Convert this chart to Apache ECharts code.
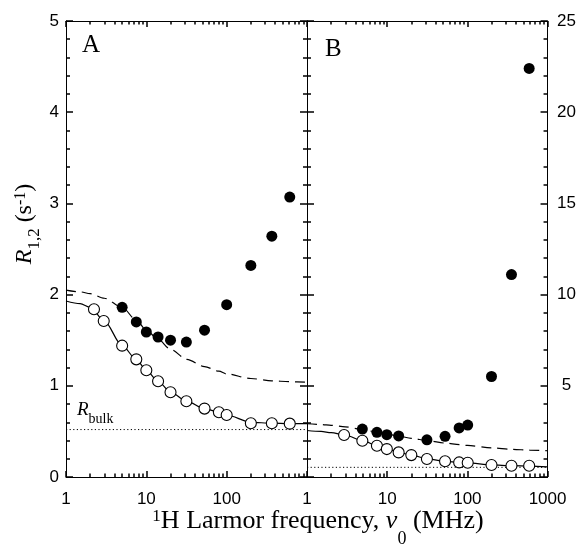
<!DOCTYPE html>
<html>
<head>
<meta charset="utf-8">
<script src="https://cdn.jsdelivr.net/npm/echarts@6/dist/echarts.min.js"></script>
<style>
  html, body { margin: 0; padding: 0; background: #fff; }
  #chart { width: 579px; height: 547px; }
</style>
</head>
<body>
<div id="chart"></div>
<script>
// ---------- data ----------
// Panel A (left axis, s^-1)
const freqAFilled = [5, 7.5, 10, 14, 20, 31.5, 53, 100, 200, 365, 610];
const rAFilled    = [1.86, 1.70, 1.59, 1.535, 1.50, 1.48, 1.61, 1.89, 2.32, 2.64, 3.07];
const freqAOpen   = [2.23, 2.95, 5, 7.5, 10, 14, 20, 31.5, 53, 80, 100, 200, 365, 610];
const rAOpen      = [1.84, 1.71, 1.44, 1.29, 1.17, 1.05, 0.93, 0.83, 0.75, 0.71, 0.68, 0.59, 0.59, 0.585];

// Fit curves sampled along the drawn lines
const fitFreq     = [1, 1.5, 2, 3, 5, 7.5, 10, 14, 20, 32, 53, 80, 100, 200, 365, 600, 1000];
const fitASolid   = [1.93, 1.90, 1.86, 1.71, 1.44, 1.29, 1.17, 1.05, 0.93, 0.83, 0.75, 0.71, 0.68, 0.60, 0.59, 0.585, 0.585];
const fitADashed  = [2.05, 2.03, 2.01, 1.96, 1.86, 1.72, 1.61, 1.51, 1.40, 1.29, 1.21, 1.16, 1.13, 1.08, 1.055, 1.045, 1.04];
const rBulkA = 0.52;

// Panel B (right axis, s^-1)
const freqBFilled = [4.9, 7.45, 9.9, 13.9, 31.3, 52.7, 79, 101, 200, 355, 590];
const rBFilled    = [2.63, 2.45, 2.32, 2.25, 2.04, 2.23, 2.69, 2.85, 5.51, 11.1, 22.4];
const freqBOpen   = [2.9, 4.9, 7.45, 9.9, 13.9, 20, 31.3, 52.7, 79, 101, 200, 355, 590];
const rBOpen      = [2.30, 1.99, 1.71, 1.53, 1.35, 1.20, 0.99, 0.86, 0.80, 0.78, 0.66, 0.62, 0.62];
const fitBSolid   = [2.55, 2.50, 2.43, 2.29, 1.99, 1.71, 1.53, 1.35, 1.20, 0.99, 0.86, 0.80, 0.77, 0.66, 0.62, 0.60, 0.56];
const fitBDashed  = [2.92, 2.88, 2.83, 2.75, 2.60, 2.46, 2.35, 2.24, 2.12, 1.99, 1.86, 1.77, 1.73, 1.60, 1.52, 1.47, 1.44];
const rBulkB = 0.53;

// Axis ticks
const xMajor = [1, 10, 100, 1000];
const xMinor = [2,3,4,5,6,7,8,9,20,30,40,50,60,70,80,90,200,300,400,500,600,700,800,900];
const xLabelsA = [1, 10, 100];
const xLabelsB = [1, 10, 100, 1000];
const yLabelsB = [5, 10, 15, 20, 25];

// ---------- helpers ----------
const zip = (xs, ys) => xs.map((x, i) => [x, ys[i]]);
const BLACK = '#000';
const TW = 1.5;
const tickFont = { fontFamily: 'Liberation Sans', fontSize: 17, color: BLACK };

function xAxisPair(gridIndex, position, labels) {
  const major = {
    type: 'log', logBase: 10, min: 1, max: 1000, gridIndex, position,
    axisLine: { show: true, lineStyle: { color: BLACK, width: 1 } },
    axisTick: { show: true, inside: true, length: 6, customValues: xMajor, lineStyle: { color: BLACK, width: TW } },
    axisLabel: labels ? Object.assign({ show: true, margin: 14, customValues: labels, formatter: v => String(v) }, tickFont) : { show: false },
    splitLine: { show: false }
  };
  const minor = {
    type: 'log', logBase: 10, min: 1, max: 1000, gridIndex, position,
    axisLine: { show: false },
    axisTick: { show: true, inside: true, length: 3.5, customValues: xMinor, lineStyle: { color: BLACK, width: TW } },
    axisLabel: { show: false },
    splitLine: { show: false }
  };
  return [major, minor];
}

function yAxisDef(gridIndex, position, max, interval, labelOpt) {
  return {
    type: 'value', gridIndex, position, min: 0, max, interval,
    axisLine: { show: true, lineStyle: { color: BLACK, width: 1 } },
    axisTick: { show: true, inside: true, length: 7, lineStyle: { color: BLACK, width: TW } },
    minorTick: { show: true, splitNumber: 5, length: 4, lineStyle: { color: BLACK, width: TW } },
    axisLabel: labelOpt ? Object.assign({ show: true }, tickFont, labelOpt) : { show: false },
    splitLine: { show: false }, minorSplitLine: { show: false }
  };
}

function lineSeries(xi, yi, xs, ys, type) {
  return {
    type: 'line', xAxisIndex: xi, yAxisIndex: yi, data: zip(xs, ys),
    showSymbol: false, symbol: 'none', smooth: 0.3, smoothMonotone: 'x',
    lineStyle: { color: BLACK, width: 1.2, type: type, opacity: 1 },
    silent: true, z: 2
  };
}
function bulkSeries(xi, yi, v) {
  return {
    type: 'line', xAxisIndex: xi, yAxisIndex: yi, data: [[1, v], [1000, v]],
    showSymbol: false, symbol: 'none',
    lineStyle: { color: BLACK, width: 1, type: [1.2, 2.4], opacity: 1 }, silent: true, z: 1
  };
}
function scatterSeries(xi, yi, xs, ys, filled) {
  return {
    type: 'scatter', xAxisIndex: xi, yAxisIndex: yi, data: zip(xs, ys),
    symbol: 'circle', symbolSize: 11,
    itemStyle: filled ? { color: BLACK, borderColor: BLACK, borderWidth: 0, opacity: 1 }
                      : { color: '#fff', borderColor: BLACK, borderWidth: 1.1, opacity: 1 },
    silent: true, z: 5
  };
}

const serif = 'Liberation Serif';
const option = {
  backgroundColor: '#fff',
  animation: false,
  grid: [
    { left: 66, top: 21, width: 241, height: 456 },
    { left: 307, top: 21, width: 241.5, height: 456 }
  ],
  xAxis: [].concat(
    xAxisPair(0, 'bottom', xLabelsA),
    xAxisPair(0, 'top', null),
    xAxisPair(1, 'bottom', xLabelsB),
    xAxisPair(1, 'top', null)
  ),
  yAxis: [
    yAxisDef(0, 'left', 5, 1, { margin: 7 }),
    yAxisDef(0, 'right', 5, 1, null),
    yAxisDef(1, 'left', 25, 5, null),
    yAxisDef(1, 'right', 25, 5, { margin: 19, align: 'center', customValues: yLabelsB })
  ],
  series: [
    bulkSeries(0, 0, rBulkA),
    lineSeries(0, 0, fitFreq, fitADashed, [10, 6]),
    lineSeries(0, 0, fitFreq, fitASolid, 'solid'),
    scatterSeries(0, 0, freqAOpen, rAOpen, false),
    scatterSeries(0, 0, freqAFilled, rAFilled, true),

    bulkSeries(4, 3, rBulkB),
    lineSeries(4, 3, fitFreq, fitBDashed, [10, 6]),
    lineSeries(4, 3, fitFreq, fitBSolid, 'solid'),
    scatterSeries(4, 3, freqBOpen, rBOpen, false),
    scatterSeries(4, 3, freqBFilled, rBFilled, true)
  ],
  graphic: [
    { type: 'text', left: 82, top: 33, silent: true,
      style: { text: 'A', fontFamily: serif, fontSize: 25, fill: BLACK } },
    { type: 'text', left: 325, top: 37, silent: true,
      style: { text: 'B', fontFamily: serif, fontSize: 25, fill: BLACK } },
    { type: 'text', x: 77, y: 394, silent: true,
      style: {
        text: '{r|R}{s|bulk}', fill: BLACK,
        rich: {
          r: { fontFamily: serif, fontStyle: 'italic', fontSize: 19, lineHeight: 32, verticalAlign: 'middle', fill: BLACK },
          s: { fontFamily: serif, fontSize: 14, lineHeight: 15, verticalAlign: 'bottom', fill: BLACK }
        }
      } },
    { type: 'text', x: 28, y: 224, rotation: Math.PI / 2, silent: true,
      style: {
        text: '{r|R}{sub|1,2}{m| (s}{sup|-1}{m|)}', align: 'center', verticalAlign: 'middle', fill: BLACK,
        rich: {
          r: { fontFamily: serif, fontStyle: 'italic', fontSize: 24, lineHeight: 31, verticalAlign: 'top', fill: BLACK },
          m: { fontFamily: serif, fontSize: 24, lineHeight: 31, verticalAlign: 'top', fill: BLACK },
          sub: { fontFamily: serif, fontSize: 17, lineHeight: 31, verticalAlign: 'bottom', fill: BLACK },
          sup: { fontFamily: serif, fontSize: 16, lineHeight: 31, verticalAlign: 'top', fill: BLACK }
        }
      } },
    { type: 'text', x: 318, y: 528, silent: true,
      style: {
        text: '{sup|1}{m|H Larmor frequency, }{i|ν}{sub|0}{m| (MHz)}', align: 'center', verticalAlign: 'middle', fill: BLACK,
        rich: {
          m: { fontFamily: serif, fontSize: 26, lineHeight: 40, verticalAlign: 'top', fill: BLACK },
          i: { fontFamily: serif, fontStyle: 'italic', fontSize: 26, lineHeight: 40, verticalAlign: 'top', fill: BLACK },
          sub: { fontFamily: serif, fontSize: 18, lineHeight: 40, verticalAlign: 'bottom', fill: BLACK },
          sup: { fontFamily: serif, fontSize: 17, lineHeight: 40, verticalAlign: 'top', fill: BLACK }
        }
      } }
  ]
};

const chart = echarts.init(document.getElementById('chart'), null, { renderer: 'canvas' });
chart.setOption(option);
</script>
</body>
</html>
